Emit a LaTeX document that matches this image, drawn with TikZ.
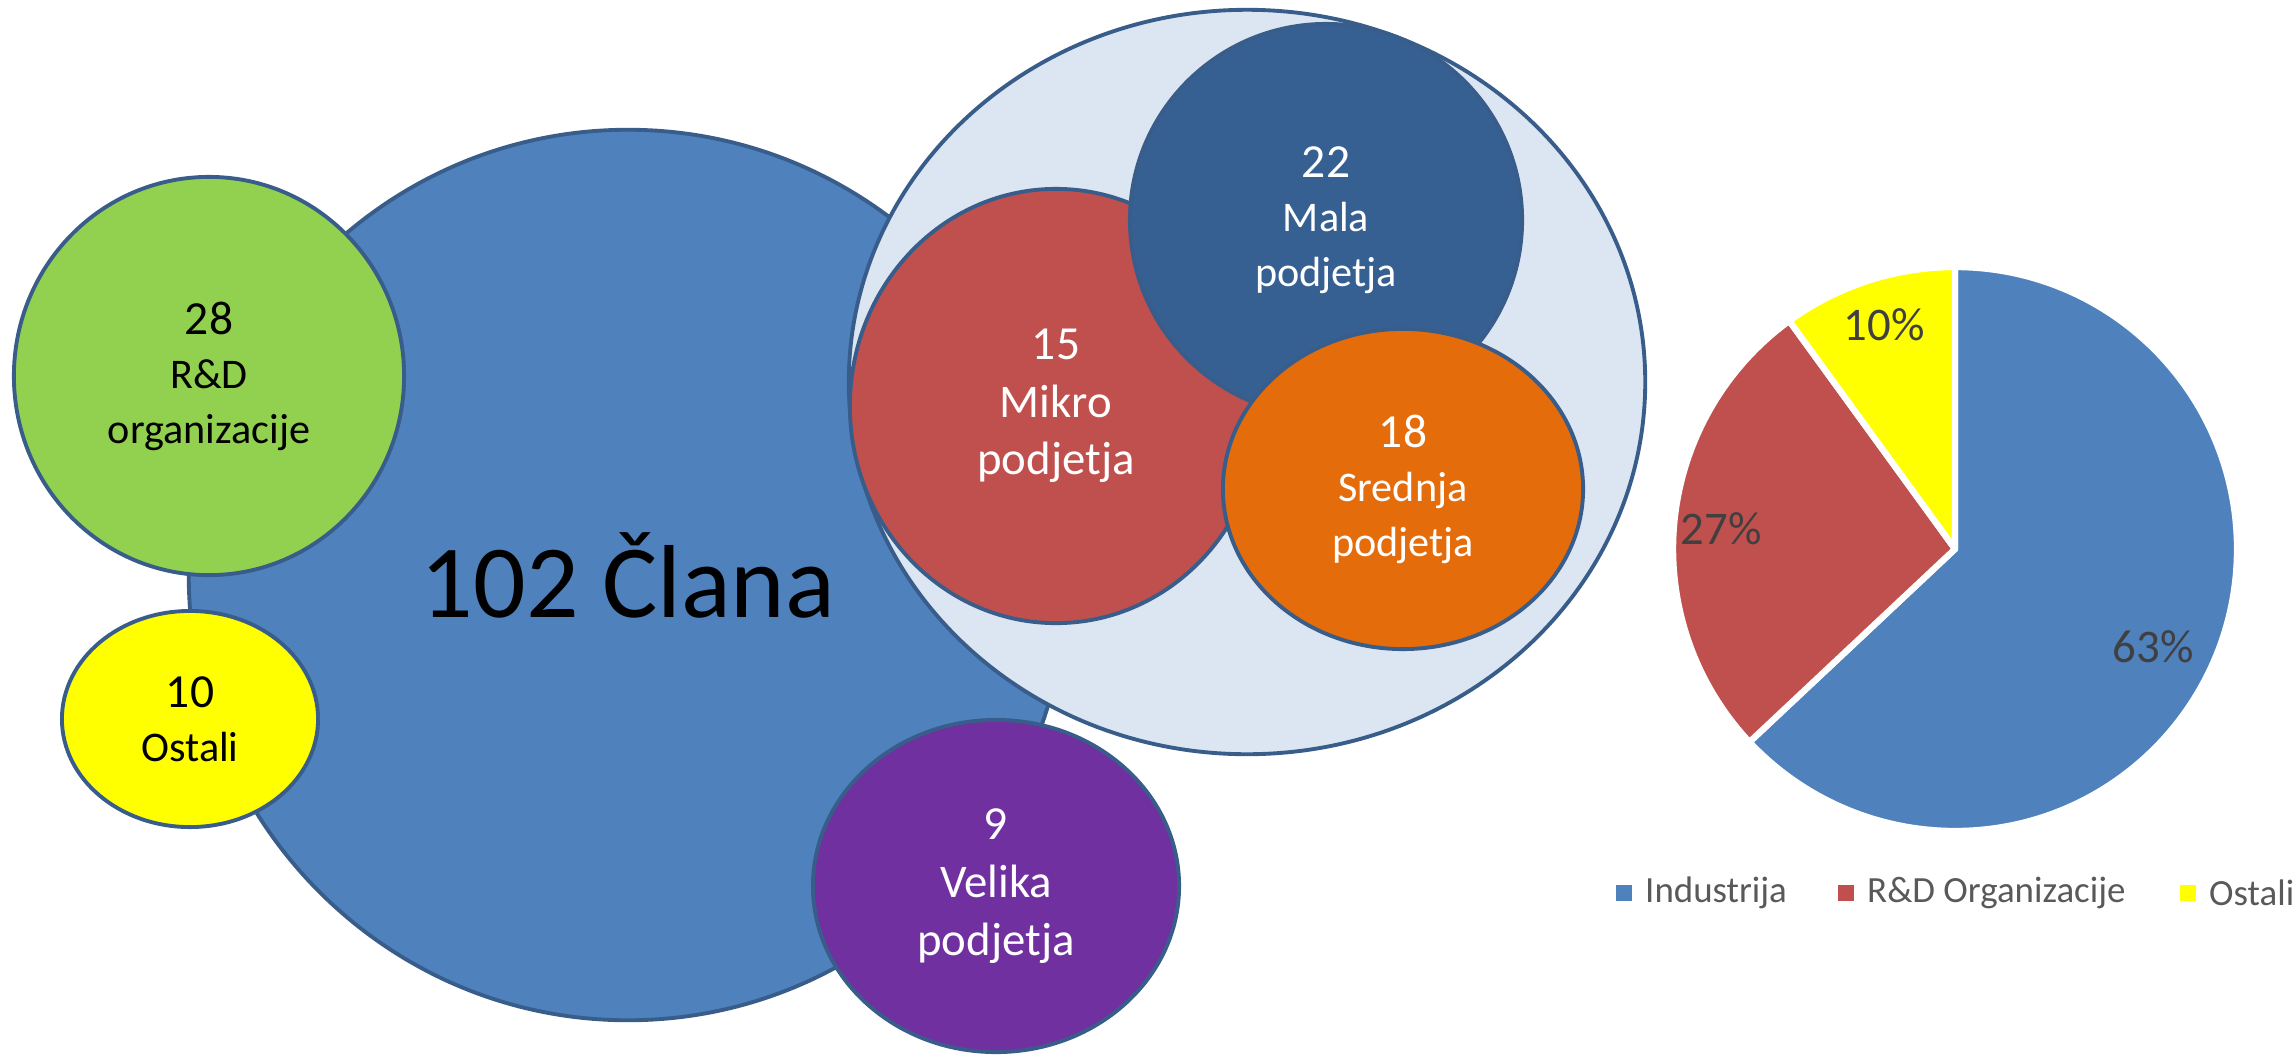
\documentclass[tikz,border=0pt]{standalone}
\usepackage{fontspec}
\setmainfont{Carlito}
\usepackage{xcolor}
\usetikzlibrary{shapes.geometric,positioning}

\definecolor{bigblue}{HTML}{4F81BD}
\definecolor{rimblue}{HTML}{385D8A}
\definecolor{rdgreen}{HTML}{92D050}
\definecolor{ostyellow}{HTML}{FFFF00}
\definecolor{velpurple}{HTML}{7030A0}
\definecolor{paleblue}{HTML}{DCE6F2}
\definecolor{mikrored}{HTML}{C0504D}
\definecolor{maladark}{HTML}{376092}
\definecolor{sredorange}{HTML}{E46C0A}
\definecolor{labelgray}{HTML}{404040}
\definecolor{legendgray}{HTML}{595959}

\newcommand{\bignum}{\fontsize{13.5}{15.5}\selectfont}

\begin{document}
\begin{tikzpicture}[x=0.01cm, y=0.01cm,
  bubble/.style={ellipse, draw=rimblue, line width=1.1pt, inner sep=0, align=center, font=\fontsize{12}{15.5}\selectfont},
  slicelabel/.style={text=labelgray, font=\fontsize{13.3}{16}\selectfont, inner sep=0},
  legendbox/.style={fill=#1, minimum size=0.155cm, inner sep=0},
  legendtext/.style={text=legendgray, font=\fontsize{10.5}{12}\selectfont, inner sep=0}]
\useasboundingbox (0,0) rectangle (2295,1056);
% members
\node[bubble, fill=bigblue, minimum width=8.78cm, minimum height=8.90cm, font=\fontsize{29.5}{34}\selectfont] (clani) at (628,481) {102 Člana};
\node[bubble, fill=rdgreen, minimum width=3.90cm, minimum height=3.98cm] (rd) at (209,680) {{\bignum 28}\\R\&D\\organizacije};
\node[bubble, fill=ostyellow, minimum width=2.56cm, minimum height=2.16cm] (ostali) at (190,337) {{\bignum 10}\\Ostali};
% industry
\node[bubble, fill=paleblue, minimum width=7.96cm, minimum height=7.44cm] (industrija) at (1247,674) {};
\node[bubble, fill=mikrored, text=white, minimum width=4.12cm, minimum height=4.34cm, font=\fontsize{13.3}{16.4}\selectfont] (mikro) at (1056,650) {{\fontsize{13.5}{16.4}\selectfont 15}\\Mikro\\podjetja};
\node[bubble, fill=maladark, text=white, minimum width=3.92cm, minimum height=3.92cm] (mala) at (1326,836) {{\bignum 22}\\Mala\\podjetja};
\node[bubble, fill=sredorange, text=white, minimum width=3.60cm, minimum height=3.20cm] (srednja) at (1403,567) {{\bignum 18}\\Srednja\\podjetja};
\node[bubble, fill=velpurple, text=white, minimum width=3.66cm, minimum height=3.32cm, font=\fontsize{13.3}{16.6}\selectfont] (velika) at (996,170) {{\fontsize{13.5}{16.6}\selectfont 9}\\Velika\\podjetja};
% pie
\coordinate (pie) at (1955,507);
\filldraw[fill=bigblue, draw=white, line width=1.8pt, line join=round] (pie) -- ++(90:282) arc (90:-136.8:282) -- cycle;
\filldraw[fill=mikrored, draw=white, line width=1.8pt, line join=round] (pie) -- ++(223.2:282) arc (223.2:126:282) -- cycle;
\filldraw[fill=ostyellow, draw=white, line width=1.8pt, line join=round] (pie) -- ++(126:282) arc (126:90:282) -- cycle;
\node[slicelabel] (pind) at (2153,409) {63\%};
\node[slicelabel] (prd) at (1721,527) {27\%};
\node[slicelabel] (post) at (1884,731) {10\%};
% legend
\node[legendbox=bigblue] (kind) at (1624,163) {};
\node[legendtext, right=0.12cm of kind] (tind) {Industrija};
\node[legendbox=mikrored] (krd) at (1846,163) {};
\node[legendtext, right=0.12cm of krd] (trd) {R\&D Organizacije};
\node[legendbox=ostyellow] (kost) at (2188,163) {};
\node[legendtext, right=0.12cm of kost] (tost) {Ostali};
\end{tikzpicture}
\end{document}
